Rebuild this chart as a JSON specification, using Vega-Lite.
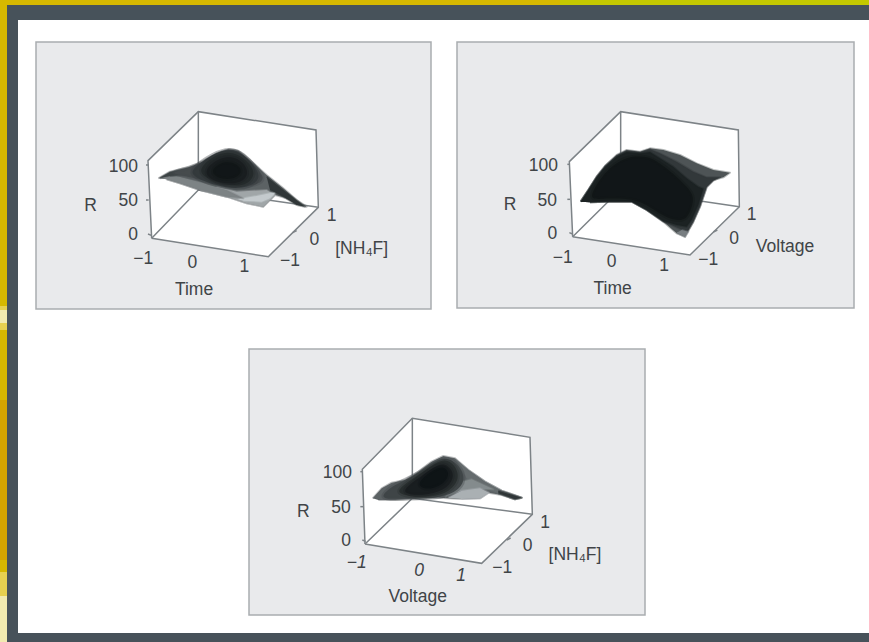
{"$schema":"https://vega.github.io/schema/vega-lite/v6.json","width":869,"height":642,"padding":0,"autosize":{"type":"fit","contains":"padding"},"background":"#ffffff","config":{"view":{"stroke":null}},
"datasets":{
"frame":[
{"part":"dark","x":0,"x2":869,"y":0,"y2":20},
{"part":"dark","x":0,"x2":18,"y":0,"y2":642},
{"part":"dark","x":0,"x2":869,"y":633,"y2":642},
{"part":"gold","x":0,"x2":869,"y":0,"y2":5},
{"part":"lime","x":560,"x2":869,"y":0,"y2":5},
{"part":"gold","x":0,"x2":7,"y":0,"y2":642},
{"part":"mid","x":0,"x2":7,"y":306,"y2":330},
{"part":"pale","x":0,"x2":7,"y":310,"y2":323},
{"part":"amber","x":0,"x2":7,"y":400,"y2":560},
{"part":"mid","x":0,"x2":7,"y":572,"y2":596},
{"part":"pale","x":0,"x2":7,"y":596,"y2":642}],
"panels":[
{"x":36,"x2":431,"y":42,"y2":309},
{"x":457,"x2":854,"y":42,"y2":308},
{"x":249,"x2":645,"y":349,"y2":615}],
"box":[
{"p":"A","s":"Ab","r":100,"x":[234,385,738,745,595,245],"y":[212,65,120,352,500,445]},
{"p":"B","s":"Bb","r":100,"x":[238,392,745,748,600,248],"y":[215,65,120,350,495,440]},
{"p":"C","s":"Cb","r":100,"x":[232,382,735,742,590,240],"y":[208,55,112,343,490,432]}],
"edges":[
{"p":"A","s":"Ae1","x":[245,234,385,738,745,595,245],"y":[445,212,65,120,352,500,445]},
{"p":"A","s":"Ae2","x":[385,385],"y":[65,300]},
{"p":"A","s":"Ae3","x":[245,385,745],"y":[445,300,352]},
{"p":"A","s":"At1","x":[228,236],"y":[225,225]},
{"p":"A","s":"At2","x":[228,236],"y":[330,330]},
{"p":"A","s":"At3","x":[234,244],"y":[432,436]},
{"p":"A","s":"At4","x":[668,680],"y":[428,422]},
{"p":"B","s":"Be1","x":[248,238,392,745,748,600,248],"y":[440,215,65,120,350,495,440]},
{"p":"B","s":"Be2","x":[392,392],"y":[65,300]},
{"p":"B","s":"Be3","x":[248,392,748],"y":[440,298,350]},
{"p":"B","s":"Bt1","x":[232,240],"y":[223,223]},
{"p":"B","s":"Bt2","x":[232,240],"y":[328,328]},
{"p":"B","s":"Bt3","x":[238,248],"y":[428,432]},
{"p":"B","s":"Bt4","x":[670,682],"y":[426,420]},
{"p":"C","s":"Ce1","x":[240,232,382,735,742,590,240],"y":[432,208,55,112,343,490,432]},
{"p":"C","s":"Ce2","x":[382,382],"y":[55,295]},
{"p":"C","s":"Ce3","x":[240,382,742],"y":[432,295,343]},
{"p":"C","s":"Ct1","x":[226,234],"y":[215,215]},
{"p":"C","s":"Ct2","x":[226,234],"y":[320,320]},
{"p":"C","s":"Ct3","x":[232,242],"y":[420,424]},
{"p":"C","s":"Ct4","x":[665,677],"y":[420,414]}],
"surface":[
{"p":"A","s":"A0","r":38,"x":[265,300,355,400,440,475,505,545,590,640,680,710,690,650,615,580,530,470,390,330,290],"y":[265,245,232,215,190,178,182,215,255,295,330,350,345,325,315,350,340,320,300,280,268]},
{"p":"A","s":"A1","r":66,"x":[390,470,530,580,615,590,500,440],"y":[300,320,340,350,315,300,305,290]},
{"p":"A","s":"A1b","r":80,"x":[505,560,620,600,575,520],"y":[328,318,305,325,335,332]},
{"p":"A","s":"A2","r":52,"x":[270,320,400,470,520,470,390,330,290],"y":[265,258,280,300,325,320,300,280,268]},
{"p":"A","s":"A6","r":18,"x":[590,640,705,680,640,600],"y":[260,300,350,345,320,300]},
{"p":"A","s":"A7","r":24,"x":[270,300,355,400,420,400,340,300],"y":[264,247,235,218,240,262,255,258]},
{"p":"B","s":"B0","r":32,"x":[272,295,320,345,380,410,450,480,520,570,620,670,720,700,670,650,630,610,585,560,520,470,425,350,300],"y":[335,300,260,228,195,180,185,175,180,195,220,240,248,262,270,290,350,395,440,430,395,360,335,335,337]},
{"p":"B","s":"B1","r":19,"x":[272,295,320,345,380,410,450,480,510,560,610,650,690,670,650,630,610,592,565,520,470,425,350,300],"y":[335,300,260,228,197,182,187,178,190,215,245,262,262,272,292,350,395,425,415,395,360,335,335,337]},
{"p":"B","s":"B2","r":8,"x":[272,295,320,345,380,410,450,480,510,550,590,625,640,625,605,590,560,520,470,425,350,300],"y":[335,300,262,232,200,186,190,186,205,230,265,290,296,345,390,410,405,393,360,335,335,337]},
{"p":"B","s":"B4","r":50,"x":[560,585,595,575],"y":[428,441,425,420]},
{"p":"C","s":"C0","r":38,"x":[263,290,320,360,400,440,475,510,550,600,650,710,690,650,610,585,530,460,400,330,280],"y":[295,265,248,240,215,185,168,175,210,245,272,293,298,285,278,295,297,293,295,300,300]},
{"p":"C","s":"C7","r":42,"x":[510,550,600,650,710,690,640,590,545],"y":[178,210,245,272,293,298,280,260,235]},
{"p":"C","s":"C2","r":55,"x":[480,510,560,625,590,530],"y":[292,250,238,268,268,272]},
{"p":"C","s":"C1","r":70,"x":[490,530,585,612,585,530],"y":[293,272,265,278,295,297]},
{"p":"C","s":"C8","r":18,"x":[640,710,690,640],"y":[272,293,298,280]}],
"blobs":[
{"p":"A","s":"Ab3","r":28,"x":[300,355,400,440,475,505,545,590,560,500,420,330],"y":[248,235,217,192,180,184,217,265,285,295,275,255]},
{"p":"A","s":"Ab4","r":20,"x":[360,430,480,520,565,570,510,430,370],"y":[240,190,175,190,240,275,300,285,260]},
{"p":"A","s":"Ab5","r":12,"x":[385,440,490,530,560,530,460,400],"y":[235,190,185,210,250,290,285,262]},
{"p":"A","s":"Ab6","r":6,"x":[400,450,500,535,530,480,420],"y":[240,200,200,235,270,285,270]},
{"p":"A","s":"Ab7","r":2,"x":[420,460,500,520,490,440],"y":[240,212,220,245,270,265]},
{"p":"B","s":"Bb3","r":2,"x":[300,310,335,370,410,470,510,550,590,615,600,580,530,480,430,350],"y":[330,300,260,225,200,197,220,250,290,320,370,395,385,350,325,325]},
{"p":"C","s":"Cb3","r":25,"x":[285,325,395,440,480,520,545,510,450,370,310],"y":[290,255,225,190,170,190,240,280,295,295,298]},
{"p":"C","s":"Cb4","r":14,"x":[325,390,440,480,510,525,495,440,370],"y":[275,232,195,175,195,235,275,292,290]},
{"p":"C","s":"Cb5","r":6,"x":[350,410,460,490,510,490,430,370],"y":[270,228,190,195,225,265,285,285]},
{"p":"C","s":"Cb6","r":1,"x":[390,435,475,495,480,430],"y":[255,215,195,220,250,272]}],
"labels":[
{"p":"A","t":"100","x":160,"y":230},{"p":"A","t":"50","x":175,"y":332},{"p":"A","t":"0","x":189,"y":435},{"p":"A","t":"R","x":62,"y":347},
{"p":"A","t":"−1","x":220,"y":508},{"p":"A","t":"0","x":367,"y":518},{"p":"A","t":"1","x":523,"y":530},{"p":"A","t":"Time","x":372,"y":600},
{"p":"A","t":"−1","x":660,"y":512},{"p":"A","t":"0","x":733,"y":450},{"p":"A","t":"1","x":785,"y":378},{"p":"A","t":"[NH₄F]","x":875,"y":477},
{"p":"B","t":"100","x":160,"y":227},{"p":"B","t":"50","x":172,"y":332},{"p":"B","t":"0","x":187,"y":432},{"p":"B","t":"R","x":60,"y":345},
{"p":"B","t":"−1","x":218,"y":505},{"p":"B","t":"0","x":365,"y":515},{"p":"B","t":"1","x":522,"y":527},{"p":"B","t":"Time","x":368,"y":597},
{"p":"B","t":"−1","x":655,"y":510},{"p":"B","t":"0","x":732,"y":448},{"p":"B","t":"1","x":785,"y":375},{"p":"B","t":"Voltage","x":885,"y":472},
{"p":"C","t":"100","x":157,"y":218},{"p":"C","t":"50","x":168,"y":323},{"p":"C","t":"0","x":183,"y":423},{"p":"C","t":"R","x":55,"y":335},
{"p":"C","t":"Voltage","x":398,"y":590},
{"p":"C","t":"−1","x":652,"y":503},{"p":"C","t":"0","x":728,"y":438},{"p":"C","t":"1","x":780,"y":368},{"p":"C","t":"[NH₄F]","x":870,"y":465}],
"italic":[
{"p":"C","t":"−1","x":215,"y":490},{"p":"C","t":"0","x":402,"y":513},{"p":"C","t":"1","x":528,"y":528}]
},
"layer":[
{"data":{"name":"frame"},"mark":{"type":"rect"},"encoding":{
"x":{"field":"x","type":"quantitative","scale":{"domain":[0,869],"nice":false,"zero":false},"axis":null},
"y":{"field":"y","type":"quantitative","scale":{"domain":[642,0],"nice":false,"zero":false},"axis":null},
"x2":{"field":"x2"},"y2":{"field":"y2"},
"fill":{"field":"part","type":"nominal","legend":null,"scale":{"domain":["dark","gold","lime","pale","amber","mid"],"range":["#47525a","#d6b800","#c4c800","#f1eab0","#d4a400","#e6d050"]}}}},
{"data":{"name":"panels"},"mark":{"type":"rect","fill":"#e9eaec","stroke":"#a9adb0","strokeWidth":1.5},"encoding":{
"x":{"field":"x","type":"quantitative","axis":null},"y":{"field":"y","type":"quantitative","axis":null},"x2":{"field":"x2"},"y2":{"field":"y2"}}},
{"data":{"name":"box"},"transform":[{"flatten":["x","y"]},
{"calculate":"datum.x/3+(datum.p=='A'?70:datum.p=='B'?490:285)","as":"px"},{"calculate":"datum.y/3+(datum.p=='C'?400:90)","as":"py"}],
"mark":{"type":"line","order":null,"fill":"#ffffff","strokeWidth":0},"encoding":{
"x":{"field":"px","type":"quantitative","axis":null},"y":{"field":"py","type":"quantitative","axis":null},"detail":{"field":"s"}}},
{"data":{"name":"edges"},"transform":[{"flatten":["x","y"]},
{"calculate":"datum.x/3+(datum.p=='A'?70:datum.p=='B'?490:285)","as":"px"},{"calculate":"datum.y/3+(datum.p=='C'?400:90)","as":"py"}],
"mark":{"type":"line","order":null,"stroke":"#7d8387","strokeWidth":1.5},"encoding":{
"x":{"field":"px","type":"quantitative","axis":null},"y":{"field":"py","type":"quantitative","axis":null},"detail":{"field":"s"}}},
{"data":{"name":"surface"},"transform":[{"flatten":["x","y"]},
{"calculate":"datum.x/3+(datum.p=='A'?70:datum.p=='B'?490:285)","as":"px"},{"calculate":"datum.y/3+(datum.p=='C'?400:90)","as":"py"}],
"mark":{"type":"line","order":null,"strokeWidth":2,"strokeOpacity":0.4,"strokeJoin":"round"},"encoding":{
"x":{"field":"px","type":"quantitative","axis":null},"y":{"field":"py","type":"quantitative","axis":null},"detail":{"field":"s"},
"fill":{"field":"r","type":"quantitative","legend":null,"scale":{"domain":[0,100],"range":["#0b1214","#ffffff"]}},
"stroke":{"field":"r","type":"quantitative","legend":null,"scale":{"domain":[0,100],"range":["#0b1214","#ffffff"]}}}},
{"data":{"name":"blobs"},"transform":[{"flatten":["x","y"]},
{"calculate":"datum.x/3+(datum.p=='A'?70:datum.p=='B'?490:285)","as":"px"},{"calculate":"datum.y/3+(datum.p=='C'?400:90)","as":"py"}],
"mark":{"type":"line","order":null,"interpolate":"basis-closed","strokeWidth":4,"strokeOpacity":0.35,"strokeJoin":"round"},"encoding":{
"x":{"field":"px","type":"quantitative","axis":null},"y":{"field":"py","type":"quantitative","axis":null},"detail":{"field":"s"},
"fill":{"field":"r","type":"quantitative","legend":null,"scale":{"domain":[0,100],"range":["#0b1214","#ffffff"]}},
"stroke":{"field":"r","type":"quantitative","legend":null,"scale":{"domain":[0,100],"range":["#0b1214","#ffffff"]}}}},
{"data":{"name":"labels"},"transform":[
{"calculate":"datum.x/3+(datum.p=='A'?70:datum.p=='B'?490:285)","as":"px"},{"calculate":"datum.y/3+(datum.p=='C'?400:90)","as":"py"}],
"mark":{"type":"text","font":"Liberation Sans","fontSize":17.5,"fill":"#404447","align":"center","baseline":"middle"},"encoding":{
"x":{"field":"px","type":"quantitative","axis":null},"y":{"field":"py","type":"quantitative","axis":null},"text":{"field":"t"}}},
{"data":{"name":"italic"},"transform":[
{"calculate":"datum.x/3+285","as":"px"},{"calculate":"datum.y/3+400","as":"py"}],
"mark":{"type":"text","font":"Liberation Sans","fontSize":17.5,"fontStyle":"italic","fill":"#404447","align":"center","baseline":"middle"},"encoding":{
"x":{"field":"px","type":"quantitative","axis":null},"y":{"field":"py","type":"quantitative","axis":null},"text":{"field":"t"}}}
],
"resolve":{"scale":{"fill":"independent","stroke":"independent"}}}
